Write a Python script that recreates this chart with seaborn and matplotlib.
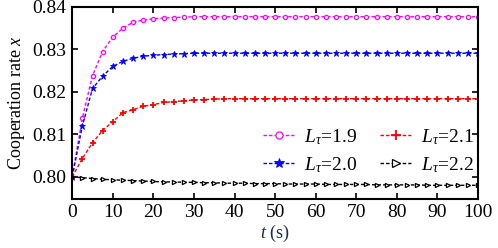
import pandas as pd
import seaborn as sns
import matplotlib.pyplot as plt

# time grid (s)
t = [0, 2.5, 5, 7.5, 10, 12.5, 15, 17.5, 20, 22.5, 25, 27.5, 30, 32.5, 35, 37.5, 40,
     42.5, 45, 47.5, 50, 52.5, 55, 57.5, 60, 62.5, 65, 67.5, 70, 72.5, 75, 77.5, 80,
     82.5, 85, 87.5, 90, 92.5, 95, 97.5, 100]

x_19 = [0.8000, 0.8138, 0.8238, 0.8295, 0.8329, 0.8350, 0.8364, 0.8369, 0.8372, 0.8374,
        0.8375, 0.8376, 0.8377, 0.8377, 0.8377, 0.8377, 0.8377, 0.8377, 0.8377, 0.8377,
        0.8377, 0.8377, 0.8377, 0.8377, 0.8377, 0.8377, 0.8377, 0.8377, 0.8377, 0.8377,
        0.8377, 0.8377, 0.8377, 0.8377, 0.8377, 0.8377, 0.8377, 0.8377, 0.8377, 0.8377,
        0.8377]
x_20 = [0.8000, 0.8120, 0.8208, 0.8237, 0.8260, 0.8272, 0.8279, 0.8284, 0.8286, 0.8288,
        0.8289, 0.8290, 0.8291, 0.8291, 0.8291, 0.8291, 0.8291, 0.8291, 0.8291, 0.8291,
        0.8291, 0.8291, 0.8291, 0.8291, 0.8291, 0.8291, 0.8291, 0.8291, 0.8291, 0.8291,
        0.8291, 0.8291, 0.8291, 0.8291, 0.8291, 0.8291, 0.8291, 0.8291, 0.8291, 0.8291,
        0.8291]
x_21 = [0.8000, 0.8043, 0.8080, 0.8109, 0.8130, 0.8151, 0.8158, 0.8166, 0.8170, 0.8175,
        0.8177, 0.8179, 0.8181, 0.8182, 0.8183, 0.8184, 0.8184, 0.8184, 0.8184, 0.8184,
        0.8184, 0.8184, 0.8184, 0.8184, 0.8184, 0.8184, 0.8184, 0.8184, 0.8184, 0.8184,
        0.8184, 0.8184, 0.8184, 0.8184, 0.8184, 0.8184, 0.8184, 0.8184, 0.8184, 0.8184,
        0.8184]
x_22 = [0.8000, 0.7998, 0.7996, 0.7994, 0.7993, 0.7992, 0.7991, 0.7990, 0.7989, 0.7988,
        0.7988, 0.7987, 0.7987, 0.7986, 0.7986, 0.7985, 0.7985, 0.7985, 0.7984, 0.7984,
        0.7984, 0.7983, 0.7983, 0.7983, 0.7983, 0.7982, 0.7982, 0.7982, 0.7982, 0.7982,
        0.7981, 0.7981, 0.7981, 0.7981, 0.7981, 0.7980, 0.7980, 0.7980, 0.7980, 0.7980,
        0.7980]

labels = [r'$L_{\tau}$=1.9', r'$L_{\tau}$=2.0', r'$L_{\tau}$=2.1', r'$L_{\tau}$=2.2']

sns.set_style('ticks')
plt.rcParams['font.family'] = ['Liberation Serif', 'DejaVu Serif']
plt.rcParams['mathtext.fontset'] = 'custom'
plt.rcParams['mathtext.rm'] = 'Liberation Serif'
plt.rcParams['mathtext.it'] = 'Liberation Serif:italic'
plt.rcParams['xtick.direction'] = 'in'
plt.rcParams['ytick.direction'] = 'in'
for k in ['text.color', 'axes.labelcolor', 'xtick.color', 'ytick.color', 'axes.edgecolor']:
    plt.rcParams[k] = 'black'

fig = plt.figure(figsize=(4.98, 2.48), dpi=100)
ax = fig.add_axes([0.145, 0.198, 0.815, 0.774])

df = pd.DataFrame({'t': t, 'a': x_19, 'b': x_20, 'c': x_21, 'd': x_22})

# column, colour, marker, marker kwargs
styles = [
    ('a', '#ff00ff', 'o', dict(markersize=3, markerfacecolor='white', markeredgewidth=0.9)),
    ('b', '#0000ff', '*', dict(markersize=4.5, markeredgewidth=0.6)),
    ('c', '#ff0000', '+', dict(markersize=4.5, markeredgewidth=1.3)),
    ('d', '#000000', '>', dict(markersize=3, markerfacecolor='white', markeredgewidth=0.9)),
]
lab = {'a': labels[0], 'b': labels[1], 'c': labels[2], 'd': labels[3]}

for col, color, mk, kw in styles:
    sns.lineplot(data=df, x='t', y=col, ax=ax, color=color, marker=mk,
                 linestyle=(0, (2.5, 1.5)), linewidth=1, markeredgecolor=color,
                 label=lab[col], **kw)

ax.set_xlim(0, 100)
ax.set_ylim(0.7948, 0.8399)
ax.set_xticks(range(0, 101, 10))
ax.set_yticks([0.80, 0.81, 0.82, 0.83, 0.84])
ax.set_yticklabels(['0.80', '0.81', '0.82', '0.83', '0.84'])
ax.tick_params(labelsize=14, top=True, right=True, length=4, width=1.2, pad=4)
for s in ax.spines.values():
    s.set_linewidth(1.5)
    s.set_visible(True)

ax.set_xlabel(r'$t$ (s)', fontsize=13, color='#1f2a4a', labelpad=1)
ax.set_ylabel(r'Cooperation rate $x$', fontsize=13, labelpad=4)

ax.legend(ncol=2, loc='center', bbox_to_anchor=(0.73, 0.25), frameon=False,
          fontsize=14, handlelength=1.6, columnspacing=1.2, handletextpad=0.5,
          labelspacing=0.45, markerscale=1.7)

fig.savefig('out.png', dpi=100)
